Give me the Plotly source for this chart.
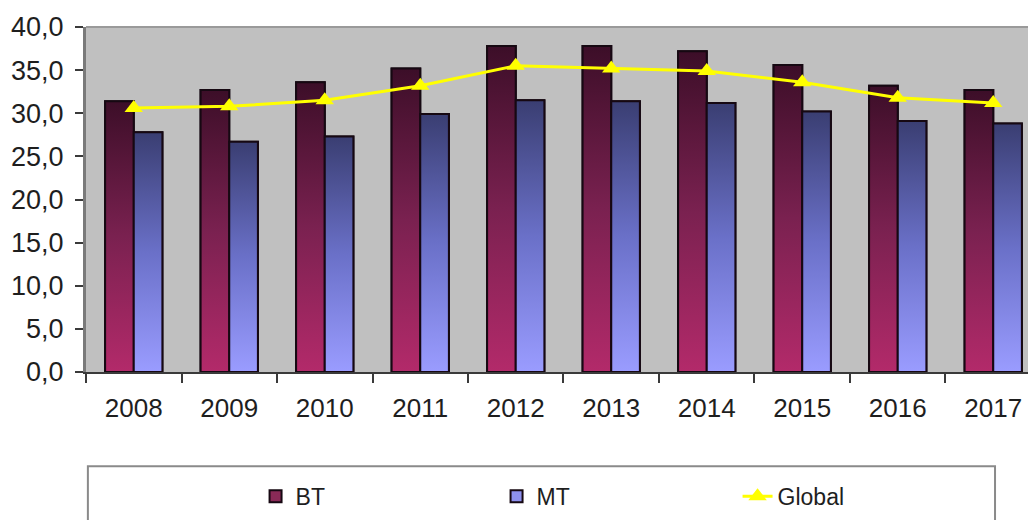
import plotly.graph_objects as go

# Series values per year
years = ["2008", "2009", "2010", "2011", "2012", "2013", "2014", "2015", "2016", "2017"]
bt = [31.4, 32.7, 33.6, 35.2, 37.8, 37.8, 37.2, 35.6, 33.2, 32.7]
mt = [27.8, 26.7, 27.3, 29.9, 31.5, 31.4, 31.2, 30.2, 29.1, 28.8]
global_avg = [30.6, 30.8, 31.5, 33.2, 35.5, 35.2, 34.9, 33.6, 31.8, 31.2]

pos = list(range(len(years)))
BAR_W = 0.3
FONT = "Liberation Sans, Arial, sans-serif"

# gradient stops (bottom -> top) for each series
BT_GRAD = [[0, "#b32a6a"], [0.5, "#7a2150"], [1, "#3c0e28"]]
MT_GRAD = [[0, "#9a9cff"], [0.5, "#6a70c8"], [1, "#3a3e72"]]
OUTLINE = "#160812"

fig = go.Figure()

fig.add_trace(go.Bar(
    x=pos, y=bt, name="BT", offset=-BAR_W, width=BAR_W,
    marker=dict(color="#8a2a57", line=dict(color=OUTLINE, width=2)),
))
fig.add_trace(go.Bar(
    x=pos, y=mt, name="MT", offset=0, width=BAR_W,
    marker=dict(color="#8e90ee", line=dict(color=OUTLINE, width=2)),
))


def gradient_bar(p, v, left, grad):
    """Overlay one bar outline with a vertical gradient fill."""
    x0, x1 = p + left, p + left + BAR_W
    return go.Scatter(
        x=[x0, x0, x1, x1, x0], y=[0, v, v, 0, 0],
        mode="lines", fill="toself",
        fillgradient=dict(type="vertical", colorscale=grad),
        line=dict(color=OUTLINE, width=2),
        showlegend=False, hoverinfo="skip",
    )


for p, v in zip(pos, bt):
    fig.add_trace(gradient_bar(p, v, -BAR_W, BT_GRAD))
for p, v in zip(pos, mt):
    fig.add_trace(gradient_bar(p, v, 0, MT_GRAD))

fig.add_trace(go.Scatter(
    x=pos, y=global_avg, name="Global", mode="lines+markers",
    line=dict(color="#ffff00", width=3),
    marker=dict(symbol="triangle-up", size=16, color="#ffff00"),
))

fig.update_layout(
    width=1028, height=520,
    margin=dict(l=86, r=0, t=27, b=148),
    paper_bgcolor="white", plot_bgcolor="#c0c0c0",
    separators=",.",
    font=dict(family=FONT, color="#1e1e1e"),
    showlegend=True,
    legend=dict(
        orientation="h", x=0.18, xanchor="left", y=-0.36, yanchor="middle",
        font=dict(family=FONT, size=23, color="#1e1e1e"),
        entrywidth=196, bgcolor="rgba(0,0,0,0)", traceorder="normal",
    ),
    shapes=[
        dict(type="line", xref="paper", yref="paper", x0=0, x1=1, y0=1, y1=1,
             line=dict(color="#9a9a9a", width=2)),
        dict(type="rect", xref="paper", yref="paper",
             x0=0.002, x1=0.965, y0=-0.273, y1=-0.52,
             line=dict(color="#8a8a8a", width=2)),
    ],
)

fig.update_xaxes(
    range=[-0.5, 9.364], tickmode="array", tickvals=pos, ticktext=years,
    ticks="", showgrid=False, zeroline=False,
    showline=True, linecolor="#3a3a3a", linewidth=2,
    tickfont=dict(family=FONT, size=26, color="#1e1e1e"),
    ticklabelstandoff=12,
    minor=dict(tickmode="array", tickvals=[p - 0.5 for p in pos] + [9.5],
               ticks="outside", ticklen=9, tickwidth=1.5, tickcolor="#3a3a3a"),
)
fig.update_yaxes(
    range=[0, 40], tickmode="linear", tick0=0, dtick=5, tickformat=".1f",
    ticks="outside", ticklen=8, tickwidth=1.5, tickcolor="#3a3a3a",
    showgrid=False, zeroline=False,
    showline=True, linecolor="#7a7a7a", linewidth=3,
    tickfont=dict(family=FONT, size=27, color="#1e1e1e"),
    ticklabelstandoff=6,
)

fig.write_html("out.html")
